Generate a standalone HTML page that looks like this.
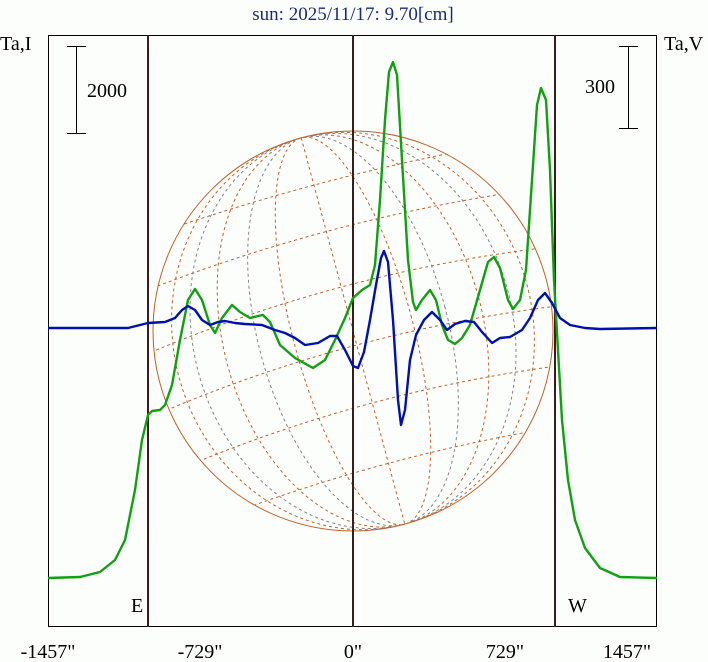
<!DOCTYPE html>
<html><head><style>
body{margin:0;background:#fcfefc;}
svg{display:block;font-family:"Liberation Serif",serif;}
</style></head><body>
<svg width="708" height="662" viewBox="0 0 708 662" xmlns="http://www.w3.org/2000/svg">
<rect width="708" height="662" fill="#fcfefc"/>
<text x="353" y="20" font-size="19" fill="#1a2a7a" text-anchor="middle">sun: 2025/11/17: 9.70[cm]</text>
<text x="0" y="50" font-size="20" fill="#000">Ta,I</text>
<text x="664" y="50" font-size="20" fill="#000">Ta,V</text>
<g fill="none" stroke-dasharray="3,3" stroke-width="1">
<clipPath id="c"><circle cx="353" cy="331" r="200"/></clipPath>
<g clip-path="url(#c)" transform="rotate(-15 353 331)">
<g stroke="#c06028">
<ellipse cx="353" cy="331" rx="60" ry="200"/>
<ellipse cx="353" cy="331" rx="130" ry="200"/>
<ellipse cx="353" cy="331" rx="180" ry="200"/>
<line x1="353" y1="131" x2="353" y2="531"/>
<path d="M140 361 Q353 330 566 361"/>
<path d="M140 301 Q353 270 566 301"/>
<path d="M140 421 Q353 390 566 421"/>
<path d="M140 241 Q353 215 566 241"/>
<path d="M140 481 Q353 455 566 481"/>
<path d="M140 190 Q353 170 566 190"/>
</g>
<g stroke="#808090">
<ellipse cx="353" cy="331" rx="95" ry="200"/>
<ellipse cx="353" cy="331" rx="160" ry="200"/>
</g>
</g>
</g>
<circle cx="353" cy="331" r="200" fill="none" stroke="#c06028" stroke-width="1"/>
<rect x="48.5" y="35.5" width="608" height="591" fill="none" stroke="#000" stroke-width="1"/>
<g stroke="#3a1c1c" stroke-width="2">
<line x1="148" y1="35" x2="148" y2="627"/>
<line x1="353" y1="35" x2="353" y2="627"/>
<line x1="555" y1="35" x2="555" y2="627"/>
</g>
<g stroke="#000" stroke-width="1">
<line x1="76.5" y1="46" x2="76.5" y2="133"/><line x1="67" y1="46.5" x2="86" y2="46.5"/><line x1="67" y1="133.5" x2="86" y2="133.5"/>
<line x1="628.5" y1="46" x2="628.5" y2="128"/><line x1="619" y1="46.5" x2="638" y2="46.5"/><line x1="619" y1="128.5" x2="638" y2="128.5"/>
</g>
<text x="87" y="97" font-size="20">2000</text>
<text x="585" y="93" font-size="20">300</text>
<polyline fill="none" stroke="#10a010" stroke-width="2.4" stroke-linejoin="round" points="48,578 80,577 100,572 115,560 125,540 135,490 142,440 148,415 152,411 160,410 165,405 172,385 180,340 188,300 195,289 202,300 210,325 215,333 222,318 232,305 240,312 250,318 258,316 263,315 270,322 280,345 295,358 313,368 325,360 335,340 345,318 353,298 362,290 370,285 375,265 380,200 385,120 389,72 393,62 397,75 402,160 408,260 413,302 416,310 422,300 430,290 436,300 442,325 448,340 455,344 462,338 470,325 480,290 488,262 494,257 500,268 508,300 513,309 520,300 526,270 532,180 537,105 541,88 546,100 550,170 554,280 558,350 562,420 568,480 575,520 585,548 600,568 620,577 657,578"/>
<polyline fill="none" stroke="#0010b0" stroke-width="2.4" stroke-linejoin="round" points="48,328 128,328 140,325 148,323 165,322 175,318 182,310 188,306 195,310 202,320 210,325 218,322 225,321 235,323 245,324 262,325 275,330 285,333 295,338 305,345 318,343 330,336 337,336 345,350 353,366 358,368 364,352 370,320 376,285 381,258 384,251 388,262 393,320 398,400 401,425 405,410 410,360 416,335 424,320 432,312 440,320 447,330 455,324 465,321 474,322 482,332 492,343 500,338 510,337 522,330 530,318 538,300 545,293 552,303 560,318 570,325 585,328 600,329 657,328"/>
<g font-size="20" fill="#000">
<text x="131" y="612">E</text>
<text x="568" y="612">W</text>
<text x="48" y="658" text-anchor="middle">-1457"</text>
<text x="200" y="658" text-anchor="middle">-729"</text>
<text x="353" y="658" text-anchor="middle">0"</text>
<text x="505" y="658" text-anchor="middle">729"</text>
<text x="627" y="658" text-anchor="middle">1457"</text>
</g>
</svg>
</body></html>
